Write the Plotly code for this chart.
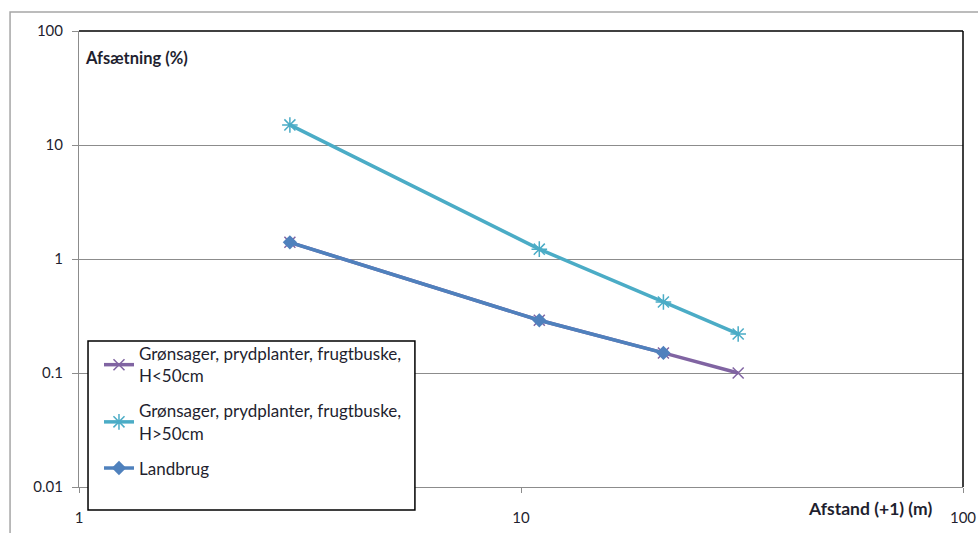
import plotly.graph_objects as go

distance = [3, 11, 21, 31]
lav = [1.4, 0.29, 0.15, 0.10]
hoj = [15, 1.22, 0.42, 0.22]
landbrug = [1.4, 0.29, 0.15]
names = ["Grønsager, prydplanter, frugtbuske,<br>H<50cm",
         "Grønsager, prydplanter, frugtbuske,<br>H>50cm",
         "Landbrug"]
y_ticks = [0.01, 0.1, 1, 10, 100]
y_ticktext = ["0.01", "0.1", "1", "10", "100"]
x_ticks = [1, 10, 100]
x_ticktext = ["1", "10", "100"]

FONT = "Lato"
FS = 15
TXT = "#1f1f2f"

fig = go.Figure()
fig.add_trace(go.Scatter(x=distance, y=lav, name=names[0], mode="lines+markers",
                         legendgroup="a",
                         line=dict(color="#8064A2", width=3.5),
                         marker=dict(symbol="x-thin-open", size=11,
                                     line=dict(color="#8064A2", width=1.5))))
fig.add_trace(go.Scatter(x=distance, y=hoj, name=names[1], mode="lines+markers",
                         legendgroup="b",
                         line=dict(color="#4BACC6", width=3.5),
                         marker=dict(symbol="asterisk-open", size=13,
                                     line=dict(color="#4BACC6", width=1.5))))
fig.add_trace(go.Scatter(x=distance[:3], y=landbrug, name=names[2], mode="lines+markers",
                         legendgroup="c",
                         line=dict(color="#4F81BD", width=3.5),
                         marker=dict(symbol="diamond", size=11, color="#4F81BD")))

fig.update_layout(
    width=978, height=533,
    margin=dict(l=79, r=15, t=31, b=46, autoexpand=False),
    paper_bgcolor="white", plot_bgcolor="white",
    font=dict(family=FONT, size=FS, color=TXT),
    showlegend=True,
    legend=dict(x=0.0226, y=0.331, xanchor="left", yanchor="top",
                bgcolor="rgba(0,0,0,0)", borderwidth=0,
                font=dict(family=FONT, size=17, color=TXT),
                tracegroupgap=10, itemwidth=30),
    xaxis=dict(type="log", range=[0, 2], tickvals=x_ticks, ticktext=x_ticktext,
               showgrid=False, zeroline=False, showline=True, linecolor="#8c8c8c",
               linewidth=1, ticks="outside", ticklen=5, tickcolor="#8c8c8c",
               ticklabelstandoff=12, automargin=False,
               tickfont=dict(family=FONT, size=FS, color=TXT)),
    yaxis=dict(type="log", range=[-2, 2], tickvals=y_ticks, ticktext=y_ticktext,
               showgrid=True, gridcolor="#8c8c8c", gridwidth=1,
               zeroline=False, showline=True, linecolor="#8c8c8c", linewidth=1,
               ticks="outside", ticklen=6, tickcolor="#8c8c8c",
               ticklabelstandoff=6, automargin=False,
               tickfont=dict(family=FONT, size=FS, color=TXT)),
)

# plot-area border (top and right in black)
fig.add_shape(type="line", xref="paper", yref="paper", x0=0, x1=1, y0=1, y1=1,
              line=dict(color="black", width=1.5), layer="above")
fig.add_shape(type="line", xref="paper", yref="paper", x0=1, x1=1, y0=0, y1=1,
              line=dict(color="black", width=1.5), layer="above")
# outer chart border
fig.add_shape(type="rect", xref="paper", yref="paper", x0=-0.078, x1=1.2,
              y0=-0.3, y1=1.0417, line=dict(color="#a6a6a6", width=1.5), layer="below")
# legend box
fig.add_shape(type="rect", xref="paper", yref="paper", x0=0.0102, x1=0.380,
              y0=-0.0504, y1=0.320, fillcolor="white",
              line=dict(color="black", width=1.5), layer="above")

fig.add_annotation(text="<b>Afsætning (%)</b>", xref="paper", yref="paper",
                   x=0.004, y=0.94, xanchor="left", yanchor="middle", showarrow=False,
                   font=dict(family=FONT, size=16.5, color=TXT))
fig.add_annotation(text="<b>Afstand (+1) (m)</b>", xref="paper", yref="paper",
                   x=0.9675, y=-0.048, xanchor="right", yanchor="middle", showarrow=False,
                   font=dict(family=FONT, size=17.5, color=TXT))

fig.write_html("out.html")
